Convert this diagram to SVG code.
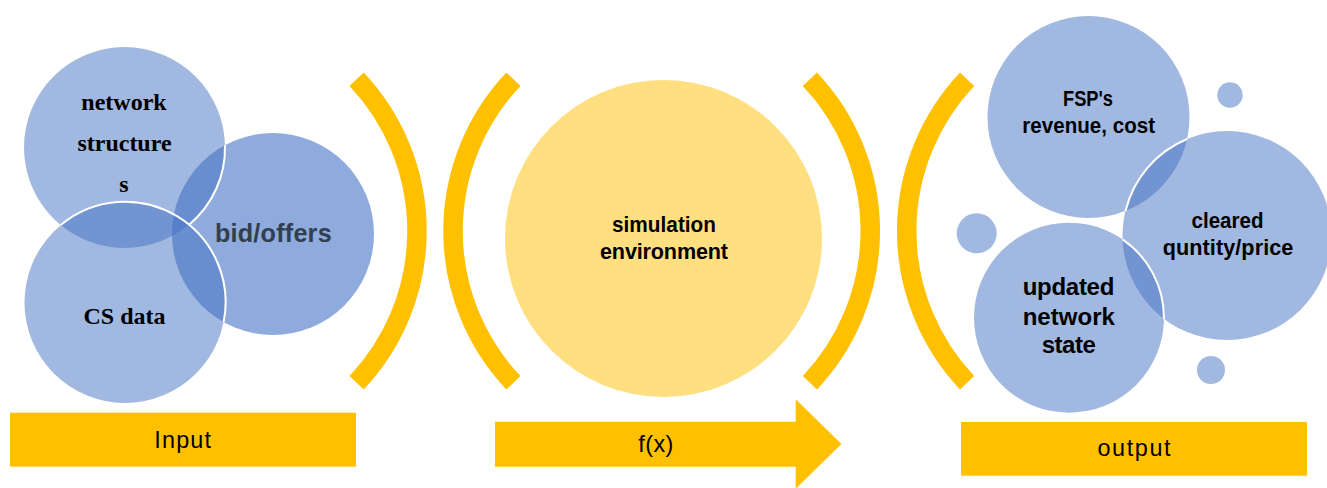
<svg xmlns="http://www.w3.org/2000/svg" width="1327" height="488" viewBox="0 0 1327 488">
<style>
.c{fill:#4472C4;fill-opacity:0.5}
.cd{fill:#4472C4;fill-opacity:0.6}
.edge{fill:none;stroke:#FFFFFF;stroke-width:2}
.br{fill:none;stroke:#FFC000;stroke-width:19.5;stroke-linecap:butt}
.bar{fill:#FFC000}
.serif{font-family:"Liberation Serif",serif;font-weight:bold;font-size:24px;fill:#000;text-anchor:middle}
.sb{font-family:"Liberation Sans",Arial,sans-serif;font-weight:bold;font-size:21.6px;fill:#000;text-anchor:middle}
.lbl{font-family:"Liberation Sans",Arial,sans-serif;font-size:23.4px;fill:#000;text-anchor:middle}
</style>
<rect width="1327" height="488" fill="#FFFFFF"/>

<!-- Input cluster -->
<g id="node-bidoffers">
  <circle class="cd" cx="273" cy="234" r="101"/>
</g>
<g id="node-network-structures">
  <circle class="c" cx="124.5" cy="147.5" r="100.5"/>
</g>
<g id="node-cs-data">
  <circle class="c" cx="125" cy="302.5" r="100.5"/>
</g>
<path class="edge" d="M225,145.2 A100.5,100.5 0 0 1 188.8,225"/>
<path class="edge" d="M60.7,225 A100.5,100.5 0 0 1 223.6,322.1"/>
<text class="serif" x="124" y="110">network</text>
<text class="serif" x="124.5" y="150.7">structure</text>
<text class="serif" x="124" y="191.7">s</text>
<text class="serif" x="124.5" y="324">CS data</text>
<text class="sb" x="273.3" y="241.7" style="font-size:25.2px;fill:#323F4F" textLength="116.7">bid/offers</text>

<!-- Brackets -->
<g id="brackets">
  <path class="br" d="M356.6,79.2 A221,221 0 0 1 356.6,382.8"/>
  <path class="br" d="M513.4,79.2 A221,221 0 0 0 513.4,382.8"/>
  <path class="br" d="M809.9,79.2 A221,221 0 0 1 809.9,382.8"/>
  <path class="br" d="M967.1,79.2 A221,221 0 0 0 967.1,382.8"/>
</g>

<!-- Simulation -->
<g id="node-simulation">
  <circle cx="663.5" cy="238.5" r="158.5" fill="#FFDF80"/>
  <text class="sb" x="664" y="231.7" textLength="104" lengthAdjust="spacingAndGlyphs">simulation</text>
  <text class="sb" x="664" y="259" textLength="128">environment</text>
</g>

<!-- Output cluster -->
<g id="node-fsp">
  <circle class="c" cx="1088.5" cy="117" r="101"/>
</g>
<g id="node-cleared">
  <circle class="c" cx="1227" cy="235.5" r="104.5"/>
</g>
<g id="node-updated">
  <circle class="c" cx="1069" cy="317.7" r="95"/>
</g>
<path class="edge" d="M1187.1,139 A104.5,104.5 0 0 0 1125.5,211"/>
<path class="edge" d="M1122.5,239.3 A95,95 0 0 1 1163.9,318.9"/>
<g id="node-dots">
  <circle class="c" cx="1230" cy="95" r="12.7"/>
  <circle class="c" cx="976.7" cy="233.3" r="20"/>
  <circle class="c" cx="1211" cy="370" r="14"/>
</g>
<text class="sb" x="1088" y="105.7" textLength="50" lengthAdjust="spacingAndGlyphs">FSP's</text>
<text class="sb" x="1088.7" y="132.7" textLength="132.7" lengthAdjust="spacingAndGlyphs">revenue, cost</text>
<text class="sb" x="1227.5" y="228.3" textLength="72" lengthAdjust="spacingAndGlyphs">cleared</text>
<text class="sb" x="1228" y="255" textLength="130.7">quntity/price</text>
<text class="sb" x="1068.5" y="295" style="font-size:24px" textLength="91.7">updated</text>
<text class="sb" x="1068.8" y="325" style="font-size:24px" textLength="92.3">network</text>
<text class="sb" x="1068.8" y="353.3" style="font-size:24px" textLength="54.3">state</text>

<!-- Bottom labels -->
<g id="node-input">
  <rect class="bar" x="10" y="412.7" width="346" height="54"/>
  <text class="lbl" x="182.7" y="448.3" textLength="56.7">Input</text>
</g>
<g id="node-fx">
  <polygon class="bar" points="495,421.7 795.7,421.7 795.7,399.3 841.5,444 795.7,488.7 795.7,466.7 495,466.7"/>
  <text class="lbl" x="655.8" y="452.3" textLength="35">f(x)</text>
</g>
<g id="node-output">
  <rect class="bar" x="961" y="422" width="346" height="53.7"/>
  <text class="lbl" x="1134" y="456" textLength="73">output</text>
</g>
</svg>
